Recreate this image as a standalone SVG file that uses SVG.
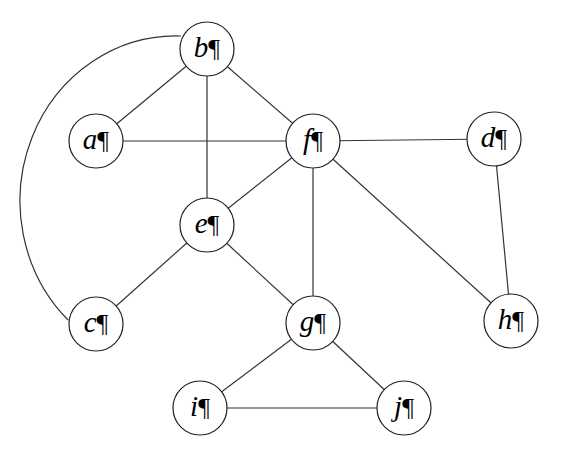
<svg xmlns="http://www.w3.org/2000/svg" width="579" height="470" viewBox="0 0 579 470">
<style>
.e{stroke:#333;stroke-width:1.2;fill:none}
.n circle{fill:#fff;stroke:#222;stroke-width:1.2}
.n text{font-family:"Liberation Serif","Times New Roman",serif;font-size:26px;text-anchor:middle;fill:#000}
.l{font-style:italic;font-size:29px}
</style>
<rect width="579" height="470" fill="#fff"/>
<g id="connectors">
<path class="e" d="M181,36 A156 165 0 0 0 68,320"/>
<line class="e" x1="207" y1="49" x2="96" y2="141"/>
<line class="e" x1="207" y1="49" x2="313" y2="141"/>
<line class="e" x1="207" y1="49" x2="207" y2="225"/>
<line class="e" x1="96" y1="141" x2="313" y2="141"/>
<line class="e" x1="313" y1="141" x2="494" y2="139"/>
<line class="e" x1="313" y1="141" x2="207" y2="225"/>
<line class="e" x1="313" y1="141" x2="313" y2="323"/>
<line class="e" x1="313" y1="141" x2="511" y2="321"/>
<line class="e" x1="494" y1="139" x2="511" y2="321"/>
<line class="e" x1="207" y1="225" x2="96" y2="324"/>
<line class="e" x1="207" y1="225" x2="313" y2="323"/>
<line class="e" x1="313" y1="323" x2="200" y2="408"/>
<line class="e" x1="313" y1="323" x2="404" y2="408"/>
<line class="e" x1="200" y1="408" x2="404" y2="408"/>
</g>
<g id="b" class="n"><circle cx="207" cy="49" r="27"/><text x="207" y="57"><tspan class="l">b</tspan>¶</text></g>
<g id="a" class="n"><circle cx="96" cy="141" r="27"/><text x="96" y="149"><tspan class="l">a</tspan>¶</text></g>
<g id="f" class="n"><circle cx="313" cy="141" r="27"/><text x="313" y="149"><tspan class="l">f</tspan>¶</text></g>
<g id="d" class="n"><circle cx="494" cy="139" r="27"/><text x="494" y="147"><tspan class="l">d</tspan>¶</text></g>
<g id="e" class="n"><circle cx="207" cy="225" r="27"/><text x="207" y="233"><tspan class="l">e</tspan>¶</text></g>
<g id="c" class="n"><circle cx="96" cy="324" r="27"/><text x="96" y="332"><tspan class="l">c</tspan>¶</text></g>
<g id="g" class="n"><circle cx="313" cy="323" r="27"/><text x="313" y="331"><tspan class="l">g</tspan>¶</text></g>
<g id="h" class="n"><circle cx="511" cy="321" r="27"/><text x="511" y="329"><tspan class="l">h</tspan>¶</text></g>
<g id="i" class="n"><circle cx="200" cy="408" r="27"/><text x="200" y="416"><tspan class="l">i</tspan>¶</text></g>
<g id="j" class="n"><circle cx="404" cy="408" r="27"/><text x="404" y="416"><tspan class="l">j</tspan>¶</text></g>
</svg>
